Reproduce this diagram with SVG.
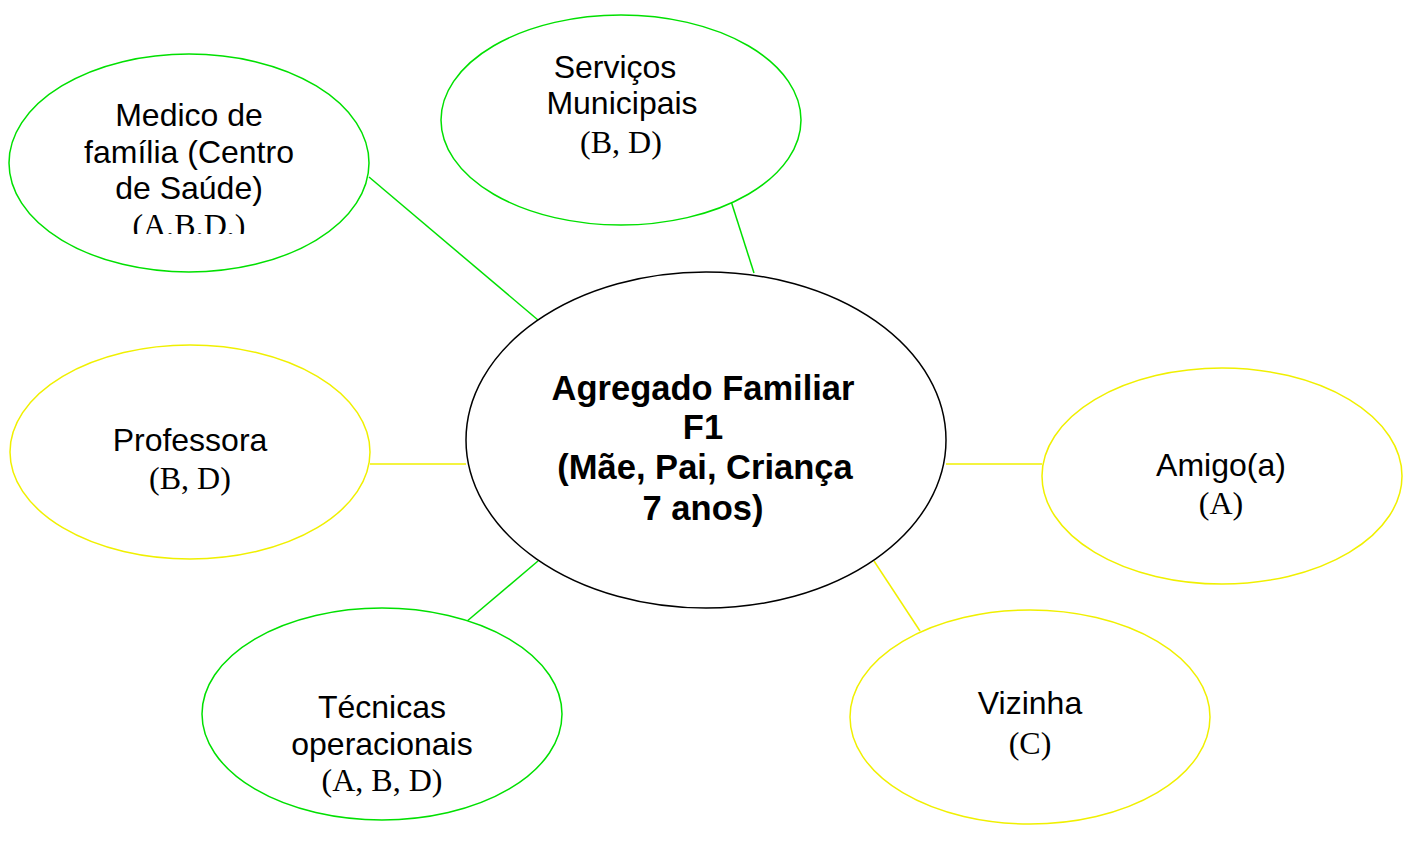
<svg xmlns="http://www.w3.org/2000/svg" width="1414" height="850" viewBox="0 0 1414 850">
<style>
.g{fill:#fff;stroke:#00e000;stroke-width:1.5}
.y{fill:#fff;stroke:#f0f000;stroke-width:1.5}
.c{fill:#fff;stroke:#000;stroke-width:1.5}
.lg{stroke:#00e000;stroke-width:1.5}
.ly{stroke:#f0f000;stroke-width:1.5}
.s{font-family:"Liberation Sans",Arial,sans-serif;font-size:32px;fill:#000;text-anchor:middle}
.t{font-family:"Liberation Serif","Times New Roman",serif;font-size:32px;fill:#000;text-anchor:middle}
.b{font-family:"Liberation Sans",Arial,sans-serif;font-size:34.5px;font-weight:bold;fill:#000;text-anchor:middle}
</style>
<defs>
<clipPath id="clipMed"><rect x="0" y="0" width="400" height="234"/></clipPath>
</defs>
<g id="connectors">
<line class="lg" x1="369" y1="177" x2="538" y2="320"/>
<line class="lg" x1="731" y1="201" x2="754" y2="273"/>
<line class="ly" x1="370" y1="464" x2="466" y2="464"/>
<line class="ly" x1="946" y1="464" x2="1042" y2="464"/>
<line class="lg" x1="466" y1="622" x2="538" y2="561"/>
<line class="ly" x1="874" y1="561" x2="920" y2="631"/>
</g>
<g id="medico">
<ellipse class="g" cx="189" cy="163" rx="180" ry="109"/>
<text class="s" x="189" y="126">Medico de</text>
<text class="s" x="189" y="163">família (Centro</text>
<text class="s" x="189" y="199">de Saúde)</text>
<text class="t" x="189" y="236" clip-path="url(#clipMed)">(A,B,D,)</text>
</g>
<g id="servicos">
<ellipse class="g" cx="621" cy="120" rx="180" ry="105"/>
<text class="s" x="615" y="78">Serviços</text>
<text class="s" x="622" y="114">Municipais</text>
<text class="t" x="621" y="153">(B, D)</text>
</g>
<g id="agregado">
<ellipse class="c" cx="706" cy="440" rx="240" ry="168"/>
<text class="b" x="703" y="400">Agregado Familiar</text>
<text class="b" x="703" y="439">F1</text>
<text class="b" x="705" y="479">(Mãe, Pai, Criança</text>
<text class="b" x="703" y="520">7 anos)</text>
</g>
<g id="professora">
<ellipse class="y" cx="190" cy="452" rx="180" ry="107"/>
<text class="s" x="190" y="451">Professora</text>
<text class="t" x="190" y="489">(B, D)</text>
</g>
<g id="amigo">
<ellipse class="y" cx="1222" cy="476" rx="180" ry="108"/>
<text class="s" x="1221" y="476">Amigo(a)</text>
<text class="t" x="1221" y="514">(A)</text>
</g>
<g id="tecnicas">
<ellipse class="g" cx="382" cy="714" rx="180" ry="106"/>
<text class="s" x="382" y="718">Técnicas</text>
<text class="s" x="382" y="755">operacionais</text>
<text class="t" x="382" y="791">(A, B, D)</text>
</g>
<g id="vizinha">
<ellipse class="y" cx="1030" cy="717" rx="180" ry="107"/>
<text class="s" x="1030" y="714">Vizinha</text>
<text class="t" x="1030" y="754">(C)</text>
</g>
</svg>
